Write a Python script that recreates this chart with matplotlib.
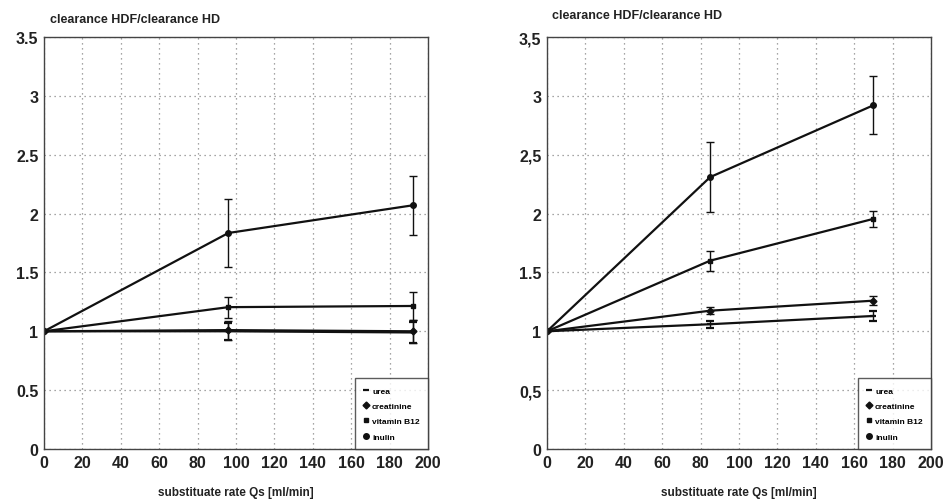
import matplotlib
matplotlib.use("Agg")
import matplotlib.pyplot as plt
from matplotlib.lines import Line2D

# Left panel data
x_left = [0, 96, 192]
urea_left = [1.0, 1.0, 0.99]
urea_left_err = [0.0, 0.07, 0.09]
creat_left = [1.0, 1.01, 1.0]
creat_left_err = [0.0, 0.08, 0.1]
vitb12_left = [1.0, 1.205, 1.215]
vitb12_left_err = [0.0, 0.09, 0.12]
inulin_left = [1.0, 1.835, 2.07]
inulin_left_err = [0.0, 0.29, 0.25]

# Right panel data
x_right = [0, 85, 170]
urea_right = [1.0, 1.06, 1.13]
urea_right_err = [0.0, 0.03, 0.04]
creat_right = [1.0, 1.175, 1.26]
creat_right_err = [0.0, 0.03, 0.04]
vitb12_right = [1.0, 1.6, 1.955]
vitb12_right_err = [0.0, 0.085, 0.065]
inulin_right = [1.0, 2.31, 2.92]
inulin_right_err = [0.0, 0.295, 0.245]

series_names = ["urea", "creatinine", "vitamin B12", "inulin"]
markers = ["_", "D", "s", "o"]
marker_sizes = [5, 3.5, 3.5, 4]

x_ticks = list(range(0, 201, 20))
y_ticks = [0, 0.5, 1, 1.5, 2, 2.5, 3, 3.5]
y_labels_left = ["0", "0.5", "1", "1.5", "2", "2.5", "3", "3.5"]
y_labels_right = ["0", "0,5", "1", "1.5", "2", "2,5", "3", "3,5"]

title_text = "clearance HDF/clearance HD"
xlabel_text = "substituate rate Qs [ml/min]"

plt.rcParams['font.family'] = ['Liberation Sans', 'DejaVu Sans']

fig = plt.figure(figsize=(9.49, 5.02), dpi=100)
fig.patch.set_facecolor("white")

ax_l = fig.add_axes([0.0464, 0.1036, 0.4046, 0.8207])
ax_r = fig.add_axes([0.5764, 0.1036, 0.4046, 0.8207])

def draw(ax, x, data, ylabels):
    for (y, e), m, ms in zip(data, markers, marker_sizes):
        ax.errorbar(x, y, yerr=e, color="#111111", lw=1.6, marker=m, ms=ms,
                    mew=1.6 if m == "_" else 1.0, capsize=3, elinewidth=1.0, capthick=1.0)
    ax.set_xlim(0, 200)
    ax.set_ylim(0, 3.5)
    ax.set_xticks(x_ticks)
    ax.set_yticks(y_ticks)
    ax.set_yticklabels(ylabels)
    ax.grid(True, linestyle=(0, (1, 3)), color="#888888", lw=0.9)
    ax.tick_params(length=0, labelsize=11.5, pad=4)
    for lab in ax.get_xticklabels() + ax.get_yticklabels():
        lab.set_fontweight("bold")
        lab.set_color("#222222")
    for s in ax.spines.values():
        s.set_color("#444444")
        s.set_linewidth(1.0)
    ax.set_xlabel(xlabel_text, fontsize=8.5, fontweight="bold", color="#222222", labelpad=12)
    handles = [Line2D([], [], color="#111111", marker=m, ls="none", ms=ms,
                      mew=1.6 if m == "_" else 1.0)
               for m, ms in zip(markers, marker_sizes)]
    leg = ax.legend(handles, series_names, loc="lower right", bbox_to_anchor=(1, 0),
                    borderaxespad=0, fancybox=False, edgecolor="#333333",
                    prop={"size": 6, "weight": "bold"}, handlelength=0.6,
                    handletextpad=0.4, borderpad=1.0, labelspacing=0.9)
    leg.get_frame().set_linewidth(1.0)

draw(ax_l, x_left, [(urea_left, urea_left_err), (creat_left, creat_left_err),
                    (vitb12_left, vitb12_left_err), (inulin_left, inulin_left_err)],
     y_labels_left)
draw(ax_r, x_right, [(urea_right, urea_right_err), (creat_right, creat_right_err),
                     (vitb12_right, vitb12_right_err), (inulin_right, inulin_right_err)],
     y_labels_right)

fig.text(50 / 949, 1 - 20 / 502, title_text, fontsize=9, fontweight="bold",
         color="#222222", va="center", ha="left")
fig.text(552 / 949, 1 - 16 / 502, title_text, fontsize=9, fontweight="bold",
         color="#222222", va="center", ha="left")

fig.savefig("out.png", dpi=100)
